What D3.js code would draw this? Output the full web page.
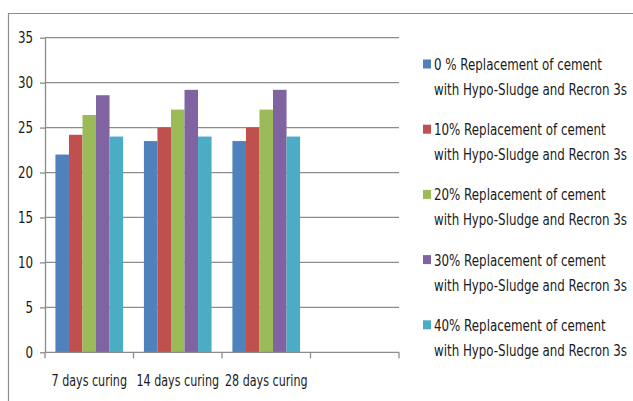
<!DOCTYPE html>
<html>
<head>
<meta charset="utf-8">
<script src="https://cdn.jsdelivr.net/npm/d3@7"></script>
<style>
  body { margin: 0; background: #fff; }
  text { font-family: "DejaVu Sans", sans-serif; fill: #1a1a1a; }
</style>
</head>
<body>
<div id="chart"></div>
<script>
const categories = ["7 days curing", "14 days curing", "28 days curing"];
const seriesNames = [
  ["0 % Replacement of cement", "with Hypo-Sludge and Recron 3s"],
  ["10% Replacement of cement", "with Hypo-Sludge and Recron 3s"],
  ["20%  Replacement of cement", "with Hypo-Sludge and Recron 3s"],
  ["30% Replacement of cement", "with Hypo-Sludge and Recron 3s"],
  ["40% Replacement of cement", "with Hypo-Sludge and Recron 3s"]
];
const seriesValues = [
  [22.0, 23.5, 23.5],
  [24.2, 25.0, 25.0],
  [26.4, 27.0, 27.0],
  [28.6, 29.2, 29.2],
  [24.0, 24.0, 24.0]
];
const yTicks = [0, 5, 10, 15, 20, 25, 30, 35];
const colors = ["#4F81BD", "#C0504D", "#9BBB59", "#8064A2", "#4BACC6"];

const width = 633, height = 401;
const margin = { left: 45, top: 37.7, right: 234, bottom: 48.7 };
const innerWidth = width - margin.left - margin.right;
const innerHeight = height - margin.top - margin.bottom;
const fontSize = 16;

const svg = d3.select("#chart")
  .append("svg")
    .attr("width", width)
    .attr("height", height);

// outer frame (top + left only visible)
svg.append("path")
  .attr("d", `M8.5,${height} L8.5,13.5 L${width},13.5`)
  .attr("fill", "none")
  .attr("stroke", "#8c8c8c")
  .attr("stroke-width", 1.2);

const innerChart = svg
  .append("g")
    .attr("transform", `translate(${margin.left}, ${margin.top})`);

// one empty slot after the last category
const slots = categories.concat([""]);
const xScale = d3.scaleBand()
  .domain(slots)
  .range([0, innerWidth]);

const xSub = d3.scaleBand()
  .domain(d3.range(seriesValues.length))
  .range([0, xScale.bandwidth()])
  .paddingInner(0)
  .paddingOuter(0.77);

const yScale = d3.scaleLinear()
  .domain([0, 35])
  .range([innerHeight, 0]);

// gridlines
innerChart.selectAll(".grid")
  .data(yTicks.slice(1))
  .join("line")
    .attr("class", "grid")
    .attr("x1", 0)
    .attr("x2", innerWidth)
    .attr("y1", d => yScale(d))
    .attr("y2", d => yScale(d))
    .attr("stroke", "#8c8c8c")
    .attr("stroke-width", 1.3);

// bars
seriesValues.forEach((vals, i) => {
  innerChart.selectAll(`.bar-${i}`)
    .data(vals)
    .join("rect")
      .attr("class", `bar-${i}`)
      .attr("x", (d, j) => xScale(categories[j]) + xSub(i))
      .attr("y", d => yScale(d))
      .attr("width", xSub.bandwidth())
      .attr("height", d => innerHeight - yScale(d))
      .attr("fill", colors[i]);
});

// left axis
const leftAxis = d3.axisLeft(yScale)
  .tickValues(yTicks)
  .tickSize(5)
  .tickPadding(7)
  .tickSizeOuter(0);

const gy = innerChart.append("g").call(leftAxis);
gy.select(".domain").attr("stroke", "#8c8c8c").attr("stroke-width", 1.3);
gy.selectAll(".tick line").attr("stroke", "#8c8c8c").attr("stroke-width", 1.3);
gy.selectAll(".tick text")
  .attr("font-size", fontSize)
  .attr("font-family", "DejaVu Sans, sans-serif")
  .attr("fill", "#1a1a1a");

// bottom axis: ticks on slot boundaries
const gx = innerChart.append("g")
  .attr("transform", `translate(0, ${innerHeight})`);
gx.append("line")
  .attr("x1", 0).attr("x2", innerWidth)
  .attr("stroke", "#8c8c8c").attr("stroke-width", 1.3);
gx.selectAll(".xtick")
  .data(slots.concat(["end"]))
  .join("line")
    .attr("class", "xtick")
    .attr("x1", (d, i) => i < slots.length ? xScale(d) : innerWidth)
    .attr("x2", (d, i) => i < slots.length ? xScale(d) : innerWidth)
    .attr("y1", 0)
    .attr("y2", 6)
    .attr("stroke", "#8c8c8c").attr("stroke-width", 1.3);
gx.selectAll(".xlabel")
  .data(categories)
  .join("text")
    .attr("class", "xlabel")
    .attr("x", d => xScale(d) + xScale.bandwidth() / 2)
    .attr("y", 34)
    .attr("text-anchor", "middle")
    .attr("font-size", fontSize)
    .text(d => d);

// legend
const legend = svg.append("g")
  .attr("transform", "translate(423, 0)");
seriesNames.forEach((lines, i) => {
  const gy0 = 70 + i * 65.2;
  legend.append("rect")
    .attr("x", 0)
    .attr("y", gy0 - 10.5)
    .attr("width", 8)
    .attr("height", 9)
    .attr("fill", colors[i]);
  lines.forEach((t, k) => {
    legend.append("text")
      .attr("x", 11)
      .attr("y", gy0 + k * 25)
      .attr("font-size", fontSize)
      .text(t);
  });
});

// narrow all text (the original uses a condensed face)
const probe = legend.select("text:nth-of-type(2)").node();
const squeeze = 193 / probe.getComputedTextLength();
svg.selectAll("text").each(function () {
  const w = this.getComputedTextLength();
  const extra = this.classList.contains("xlabel") ? 0.94 : 1;
  d3.select(this)
    .attr("textLength", w * squeeze * extra)
    .attr("lengthAdjust", "spacingAndGlyphs");
});
</script>
</body>
</html>
